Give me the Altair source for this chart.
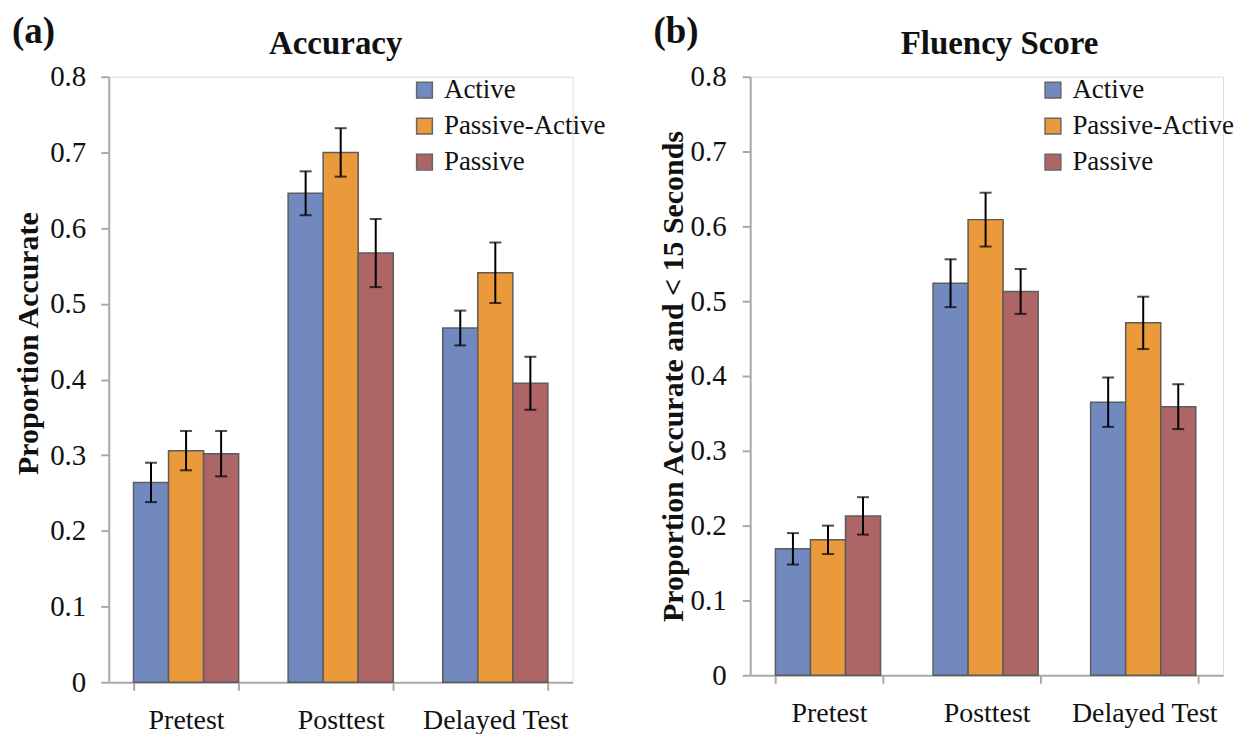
import altair as alt
import pandas as pd

tests = ["Pretest", "Posttest", "Delayed Test"]
groups = ["Active", "Passive-Active", "Passive"]
colors = ["#7189BF", "#EB9A3B", "#AD6565"]
panel_labels = ["(a)", "(b)"]
panel_titles = ["Accuracy", "Fluency Score"]
y_titles = ["Proportion Accurate", "Proportion Accurate and < 15 Seconds"]
y_ticks = [0, 0.1, 0.2, 0.3, 0.4, 0.5, 0.6, 0.7, 0.8]

# Panel (a): Accuracy  (means per test, error = +/-)
acc_active = [0.264, 0.646, 0.468]
acc_passive_active = [0.306, 0.700, 0.541]
acc_passive = [0.302, 0.567, 0.395]
acc_active_err = [0.026, 0.029, 0.023]
acc_passive_active_err = [0.026, 0.032, 0.040]
acc_passive_err = [0.030, 0.045, 0.035]

# Panel (b): Fluency score
flu_active = [0.169, 0.524, 0.365]
flu_passive_active = [0.181, 0.609, 0.471]
flu_passive = [0.213, 0.513, 0.359]
flu_active_err = [0.021, 0.032, 0.033]
flu_passive_active_err = [0.019, 0.036, 0.035]
flu_passive_err = [0.025, 0.030, 0.030]

FONT = "Liberation Serif"
INK = "#111111"
AXIS = "#A9A9A9"


def build_df(means, errs):
    rows = []
    for g, m, e in zip(groups, means, errs):
        for t, v, s in zip(tests, m, e):
            rows.append({"test": t, "group": g, "value": v,
                         "lo": v - s, "hi": v + s})
    return pd.DataFrame(rows)


def panel(df, title, ytitle, label, width, height, legend_x, title_shift,
          title_pad, label_pad, ytitle_y=None):
    y_axis_opts = dict(values=y_ticks, grid=False,
                       labelExpr="datum.value == 0 ? '0' : format(datum.value, '.1f')",
                       labelFontSize=29, labelFont=FONT, labelColor=INK,
                       labelPadding=label_pad, tickSize=8,
                       domainColor=AXIS, tickColor=AXIS,
                       domainWidth=2, tickWidth=2,
                       titleFont=FONT, titleFontSize=30,
                       titleFontWeight="bold", titleColor=INK,
                       titlePadding=title_pad)
    if ytitle_y is not None:
        y_axis_opts["titleY"] = ytitle_y
    base = alt.Chart(df).encode(
        x=alt.X("test:N", sort=tests, title=None,
                scale=alt.Scale(paddingInner=0.32, paddingOuter=0.16),
                axis=alt.Axis(labelAngle=0, labelFontSize=28, labelFont=FONT,
                              labelColor=INK, labelPadding=16,
                              tickBand="extent", tickSize=8,
                              domainColor=AXIS, tickColor=AXIS,
                              domainWidth=2, tickWidth=2)),
        xOffset=alt.XOffset("group:N", sort=groups,
                            scale=alt.Scale(paddingInner=0, paddingOuter=0)),
    )
    bars = base.mark_bar(stroke="#5c5c5c", strokeWidth=1.5).encode(
        y=alt.Y("value:Q", title=ytitle,
                scale=alt.Scale(domain=[0, 0.8], nice=False),
                axis=alt.Axis(**y_axis_opts)),
        color=alt.Color("group:N", sort=groups, title=None,
                        scale=alt.Scale(domain=groups, range=colors),
                        legend=alt.Legend(orient="none", legendX=legend_x,
                                          legendY=0, symbolType="square",
                                          symbolSize=250,
                                          symbolStrokeColor="#666",
                                          symbolStrokeWidth=1.5,
                                          symbolOpacity=1,
                                          labelFont=FONT, labelFontSize=27,
                                          labelLimit=400,
                                          labelColor=INK, rowPadding=8,
                                          labelOffset=6)),
    )
    rules = base.mark_rule(color="black", strokeWidth=2).encode(
        y="lo:Q", y2="hi:Q")
    cap_lo = base.mark_tick(color="black", thickness=2, size=12,
                            orient="horizontal").encode(y="lo:Q")
    cap_hi = base.mark_tick(color="black", thickness=2, size=12,
                            orient="horizontal").encode(y="hi:Q")
    text_df = pd.DataFrame({"tag": [label], "title": [title]})
    tag = alt.Chart(text_df).mark_text(
        font=FONT, fontSize=37, fontWeight="bold", align="left",
        baseline="alphabetic", color=INK).encode(
        x=alt.value(-97), y=alt.value(-34), text="tag:N")
    head = alt.Chart(text_df).mark_text(
        font=FONT, fontSize=33, fontWeight="bold", align="center",
        baseline="alphabetic", color=INK).encode(
        x=alt.value(width / 2 + title_shift), y=alt.value(-23),
        text="title:N")
    return alt.layer(bars, rules, cap_lo, cap_hi, tag, head).properties(
        width=width, height=height)


left = panel(build_df([acc_active, acc_passive_active, acc_passive],
                      [acc_active_err, acc_passive_active_err, acc_passive_err]),
             panel_titles[0], y_titles[0], panel_labels[0], 465, 607, 303, -5,
             6, 15, 267)
right = panel(build_df([flu_active, flu_passive_active, flu_passive],
                       [flu_active_err, flu_passive_active_err, flu_passive_err]),
              panel_titles[1], y_titles[1], panel_labels[1], 474, 600, 290, 13,
              2, 16)

chart = alt.hconcat(left, right, spacing=46,
                    padding={"top": 3, "left": 3, "right": 2, "bottom": 2}
                    ).resolve_scale(color="independent").resolve_legend(
    color="independent").configure_view(stroke=None).configure(
    background="white")

chart.save("out.html", embed_options={"renderer": "svg", "actions": False})
